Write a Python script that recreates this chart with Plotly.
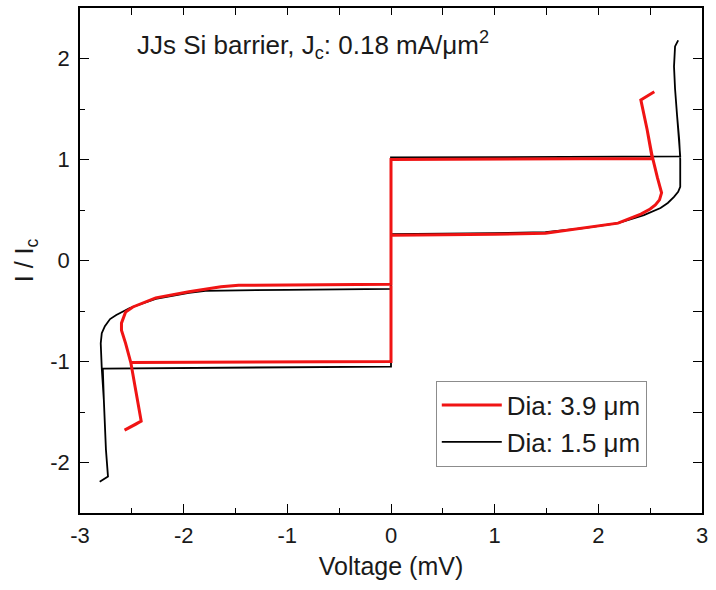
import plotly.graph_objects as go

# Current-voltage sweeps (V in mV, I normalised to Ic), traced as measured:
# supercurrent branch -> switch to gap -> up to max bias -> back down the
# quasiparticle branch -> retrap -> same on the negative side.
v_small = [0.00, 0.00, 2.79, 2.78, 2.76, 2.74, 2.73, 2.74, 2.77,
           2.74, 2.73, 2.74, 2.76, 2.78, 2.79, 2.79, 2.77, 2.73, 2.67, 2.60, 2.44,
           2.19, 1.86, 1.49, 1.00, 0.50, 0.00, 0.00,
           -2.78, -2.77, -2.75, -2.73, -2.81,
           -2.73, -2.75, -2.77, -2.79, -2.80, -2.79, -2.76, -2.71, -2.65, -2.52,
           -2.27, -1.95, -1.79, -1.00, -0.50, 0.00, 0.00]
i_small = [0.00, 1.02, 1.03, 1.20, 1.43, 1.70, 1.92, 2.12, 2.18,
           2.12, 1.92, 1.70, 1.43, 1.20, 1.00, 0.73, 0.68, 0.63, 0.57, 0.52, 0.45,
           0.37, 0.32, 0.28, 0.27, 0.265, 0.26, -1.05,
           -1.07, -1.38, -1.87, -2.14, -2.19,
           -2.14, -1.87, -1.38, -1.07, -0.82, -0.72, -0.65, -0.58, -0.54, -0.47,
           -0.38, -0.32, -0.30, -0.29, -0.285, -0.28, 0.00]

v_large = [0.00, 0.00, 2.52, 2.47, 2.41, 2.54,
           2.41, 2.47, 2.52, 2.57, 2.61, 2.59, 2.55, 2.50, 2.41,
           2.19, 1.86, 1.49, 1.00, 0.50, 0.00, 0.00,
           -2.51, -2.46, -2.41, -2.46, -2.57,
           -2.46, -2.41, -2.46, -2.51, -2.56, -2.60, -2.60, -2.56, -2.49,
           -2.27, -1.95, -1.64, -1.47, -1.00, -0.33, 0.00, 0.00]
i_large = [0.00, 1.00, 1.01, 1.30, 1.59, 1.67,
           1.59, 1.30, 1.03, 0.82, 0.67, 0.60, 0.55, 0.51, 0.46,
           0.37, 0.32, 0.27, 0.26, 0.255, 0.25, -1.00,
           -1.01, -1.30, -1.59, -1.62, -1.68,
           -1.62, -1.59, -1.30, -1.01, -0.82, -0.69, -0.62, -0.51, -0.46,
           -0.37, -0.31, -0.26, -0.245, -0.24, -0.235, -0.235, 0.00]

x_ticks = [-3, -2, -1, 0, 1, 2, 3]
x_labels = ["-3", "-2", "-1", "0", "1", "2", "3"]
y_ticks = [-2, -1, 0, 1, 2]
y_labels = ["-2", "-1", "0", "1", "2"]

FONT = "Liberation Sans, Arial, sans-serif"
TXT = "#1a1a1a"

fig = go.Figure()
fig.add_trace(go.Scatter(
    x=v_small, y=i_small, mode="lines", name="Dia: 1.5 \u03bcm",
    line=dict(color="#000000", width=1.8), legendgroup="b", legendrank=2))
fig.add_trace(go.Scatter(
    x=v_large, y=i_large, mode="lines", name="Dia: 3.9 \u03bcm",
    line=dict(color="#f01414", width=3), legendgroup="a", legendrank=1))

axis_common = dict(
    showgrid=False, zeroline=False, showline=True, linecolor="#000000",
    linewidth=1.5, ticks="inside", ticklen=9, tickwidth=1.3, tickcolor="#000000",
    tickfont=dict(family=FONT, size=22, color=TXT),
    minor=dict(ticks="inside", ticklen=5, tickwidth=1.3, tickcolor="#000000",
               dtick=0.5, showgrid=False),
)

fig.update_layout(
    width=716, height=590,
    margin=dict(l=80, r=8, t=8, b=77),
    paper_bgcolor="white", plot_bgcolor="white",
    xaxis=dict(range=[-3, 3], tickvals=x_ticks, ticktext=x_labels, **axis_common,
               ticklabelstandoff=2,
               title=dict(text="Voltage (mV)", font=dict(family=FONT, size=25, color=TXT),
                          standoff=10)),
    yaxis=dict(range=[-2.5, 2.5], tickvals=y_ticks, ticktext=y_labels, **axis_common,
               ticklabelstandoff=4,
               title=dict(text="I / I<sub>c</sub>", font=dict(family=FONT, size=25, color=TXT),
                          standoff=10)),
    xaxis2=dict(range=[-3, 3], overlaying="x", side="top", matches="x",
                showgrid=False, zeroline=False, showline=True, linecolor="#000000",
                linewidth=1.5, ticks="inside", ticklen=7, tickwidth=1.3,
                tickcolor="#000000", dtick=0.5, tick0=0, showticklabels=False),
    yaxis2=dict(range=[-2.5, 2.5], overlaying="y", side="right", matches="y",
                showgrid=False, zeroline=False, showline=True, linecolor="#000000",
                linewidth=1.5, ticks="inside", ticklen=9, tickwidth=1.3,
                tickcolor="#000000", dtick=0.5, tick0=0, showticklabels=False),
    legend=dict(x=0.572, y=0.262, xanchor="left", yanchor="top",
                bgcolor="white", bordercolor="#8c8c8c", borderwidth=1,
                font=dict(family=FONT, size=26, color=TXT),
                itemwidth=60, tracegroupgap=0),
    showlegend=True,
    annotations=[dict(
        x=0.089, y=0.927, xref="paper", yref="paper", xanchor="left", yanchor="middle",
        text="JJs Si barrier, J<sub>c</sub>: 0.18 mA/\u03bcm<sup>2</sup>",
        showarrow=False, font=dict(family=FONT, size=26, color=TXT))],
)

# invisible anchors so the mirrored top/right axes are drawn
fig.add_trace(go.Scatter(x=[0], y=[0], xaxis="x2", yaxis="y2", mode="markers",
                         marker=dict(opacity=0), showlegend=False, hoverinfo="skip"))

fig.write_html("out.html")
